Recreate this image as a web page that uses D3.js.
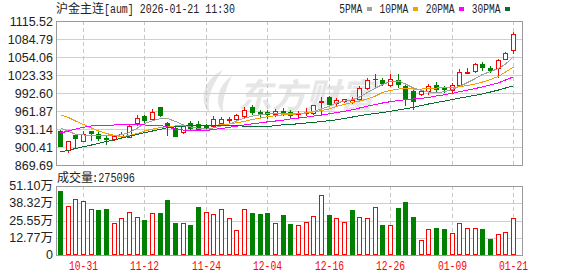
<!DOCTYPE html>
<html><head><meta charset="utf-8">
<script src="https://cdn.jsdelivr.net/npm/d3@7"></script>
<style>
html,body{margin:0;padding:0;background:#fff;}
svg{display:block;}
</style></head>
<body>
<svg id="chart" width="578" height="276"></svg>
<script>
// ---------------- data ----------------
const title = "沪金主连[aum] 2026-01-21 11:30";
const volumeTitle = "成交量:275096";
const watermark = "东方财富";
const dates = ["10-28","10-29","10-30","10-31","11-03","11-04","11-05","11-06","11-07","11-10",
  "11-11","11-12","11-13","11-14","11-17","11-18","11-19","11-20","11-21","11-24",
  "11-25","11-26","11-27","11-28","12-01","12-02","12-03","12-04","12-05","12-08",
  "12-09","12-10","12-11","12-12","12-15","12-16","12-17","12-18","12-19","12-22",
  "12-23","12-24","12-25","12-26","12-29","12-30","12-31","01-05","01-06","01-07",
  "01-08","01-09","01-12","01-13","01-14","01-15","01-16","01-19","01-20","01-21"];
const open = [928.1,895.6,920.6,911.0,926.9,922.3,915.4,914.4,920.0,918.3,
  941.0,952.5,948.5,967.9,941.0,933.7,925.7,941.0,939.5,936.6,
  937.1,941.0,946.8,948.5,952.5,968.4,959.8,959.8,957.6,962.2,
  959.8,956.4,958.8,958.8,977.5,985.4,974.7,979.8,978.0,982.7,
  1001.5,1016.6,1015.6,1007.1,1014.5,1005.4,995.7,991.7,995.7,1005.9,
  1001.5,997.4,1007.1,1027.1,1029.8,1042.5,1035.6,1035.6,1051.3,1065.2];
const high = [929.0,911.5,922.5,926.9,928.1,926.9,920.0,921.0,925.7,939.7,
  954.2,955.4,965.6,969.5,942.8,935.0,939.5,945.2,944.0,939.5,
  953.0,951.3,951.3,957.0,969.5,972.0,963.9,963.9,966.0,966.6,
  963.2,962.0,967.3,972.5,986.1,988.3,984.0,983.0,986.1,1004.0,
  1018.5,1024.2,1018.0,1024.2,1025.4,1010.0,998.6,997.0,1008.3,1011.1,
  1005.4,1010.0,1033.9,1035.6,1043.0,1045.2,1038.4,1051.5,1063.0,1097.1];
const low = [901.5,892.7,898.7,910.5,912.7,912.7,905.9,913.0,916.6,917.5,
  938.3,942.8,946.8,953.0,921.2,919.0,924.0,931.5,929.0,930.5,
  936.0,938.3,943.4,946.8,951.0,956.0,950.8,950.0,954.0,954.2,
  952.0,951.0,954.2,957.0,955.9,970.1,972.0,978.0,975.9,980.0,
  999.8,1004.2,1007.0,1005.4,1003.2,971.3,965.6,990.0,991.7,995.7,
  994.6,994.6,1005.4,1026.4,1028.5,1032.7,1028.1,1020.0,1051.0,1061.2];
const close = [902.5,911.0,916.3,922.3,924.0,916.6,913.7,919.5,922.3,936.6,
  949.6,946.8,961.0,954.2,938.3,920.0,938.3,933.7,930.0,932.5,
  947.4,948.0,948.6,954.2,963.9,959.8,957.1,956.4,962.2,958.8,
  955.9,958.3,961.0,971.8,979.0,973.0,981.5,982.0,980.2,1001.5,
  1015.6,1015.8,1010.0,1016.9,1008.8,984.4,979.8,995.7,1004.2,999.8,
  998.6,1007.1,1028.1,1028.8,1041.3,1036.6,1031.5,1048.6,1061.2,1092.5];
const volume = [476000,362000,414000,399000,340000,335000,342000,236000,273000,317000,
  280000,260000,310000,312000,409000,238000,236000,223000,357000,317000,
  303000,340000,273000,184000,340000,312000,305000,312000,236000,298000,
  231000,221000,243000,288000,444000,298000,273000,243000,335000,283000,
  273000,355000,223000,221000,350000,394000,283000,109000,191000,201000,
  193000,161000,236000,198000,198000,193000,119000,154000,169000,275096];
const ma5 = [933.2,927.2,922.1,920.9,919.2,919.5,920.0,920.0,921.2,925.2,
  932.9,940.5,945.1,949.1,949.1,944.0,938.0,934.6,932.5,931.1,
  932.9,936.3,939.7,944.8,949.6,953.3,955.6,957.1,957.6,958.1,
  957.1,957.6,958.8,961.0,965.3,970.4,975.5,978.9,981.0,985.8,
  993.5,1001.1,1007.1,1012.2,1013.1,1008.0,1001.1,996.9,994.3,993.5,
  994.7,998.6,1003.7,1010.5,1017.4,1024.2,1029.3,1034.4,1042.1,1054.4];
const ma10 = [955.4,950.8,944.8,938.8,932.9,927.7,923.5,920.0,918.3,920.0,
  923.5,927.7,931.1,933.7,935.4,936.3,937.1,937.5,937.5,937.1,
  937.5,938.3,939.7,941.7,944.3,947.4,949.9,952.0,953.9,955.4,
  955.9,957.1,958.5,960.2,962.7,965.3,969.6,973.0,976.4,978.9,
  982.4,987.5,993.5,996.9,999.4,1000.3,999.4,999.4,1000.3,1001.1,
  1001.5,1002.0,1003.2,1005.4,1008.0,1011.4,1015.7,1020.8,1028.5,1037.0];
const ma20 = [924.3,927.7,931.1,934.2,936.3,937.1,937.6,938.0,938.0,938.0,
  938.0,938.0,937.6,937.1,934.6,931.1,929.4,928.6,928.6,928.6,
  930.5,932.0,934.0,936.0,938.0,940.0,941.8,943.3,944.8,946.3,
  948.3,949.7,951.6,953.3,955.0,957.1,959.3,961.5,963.9,967.0,
  970.1,973.0,975.5,977.8,979.8,981.2,982.4,983.6,984.9,987.5,
  989.7,992.1,994.7,997.4,1000.3,1003.2,1006.3,1010.0,1014.8,1020.3];
const ma30 = [892.2,894.8,897.9,900.8,903.8,906.7,909.8,912.7,915.8,918.9,
  921.8,924.8,927.7,930.6,933.4,934.9,935.9,936.8,937.1,937.1,
  937.1,937.1,937.1,937.1,935.8,935.1,934.9,935.4,937.1,938.3,
  938.8,940.2,941.4,942.2,944.0,945.3,946.9,949.1,951.6,953.9,
  955.9,957.6,959.3,961.4,963.6,965.6,968.2,971.3,973.8,976.4,
  978.9,981.5,983.9,986.3,988.7,991.2,994.3,997.7,1001.1,1004.9];
const maNames = ["5PMA","10PMA","20PMA","30PMA"];
const priceTicks = [869.69,900.41,931.14,961.87,992.60,1023.33,1054.06,1084.79,1115.52];
const priceTickLabels = ["869.69","900.41","931.14","961.87","992.60","1023.33","1054.06","1084.79","1115.52"];
const volTicks = [0,127750,255500,383250,511000];
const volTickLabels = ["0","12.77万","25.55万","38.32万","51.10万"];
const dateTicks = ["10-31","11-12","11-24","12-04","12-16","12-26","01-09","01-21"];

// ---------------- styles / layout ----------------
const RED = "#ff0000", GREEN = "#008000";
const maColors = ["#a0a0a0","#f0a000","#ff00ff","#0b6b34"];
const PL = 56, PR = 522, MT = 21, MB = 165, VT = 186, VB = 255;
const LABEL_FONT = "'Liberation Sans', Arial, sans-serif";
const MONO = "'Liberation Mono', 'DejaVu Sans Mono', monospace";
const CJK = "'Noto Sans CJK SC', sans-serif";

const svg = d3.select("#chart");

const x = d3.scaleBand().domain(dates).range([56.5, 517.3]).paddingInner(0).paddingOuter(0);
const cx = d => Math.floor(x(d) + x.bandwidth() / 2);
const yP = d3.scaleLinear().domain([priceTicks[0], priceTicks[priceTicks.length - 1]]).range([MB, MT]);
const yV = d3.scaleLinear().domain([volTicks[0], volTicks[volTicks.length - 1]]).range([VB, VT]);

// ---------------- watermark ----------------
const wm = svg.append("g").attr("fill", "#e6e6e6");
wm.append("path").attr("d", "M223 70 C205 78 197 99 210 114 C206 100 211 86 223 70 Z");
wm.append("path").attr("d", "M232 76 C217 86 214 103 223 113 C222 100 226 88 232 76 Z");
wm.append("text").attr("x", 238).attr("y", 108)
  .attr("font-family", CJK).attr("font-size", 34).attr("font-weight", "bold")
  .attr("font-style", "italic").text(watermark);

// ---------------- grid ----------------
const grid = svg.append("g").attr("shape-rendering", "crispEdges");
grid.selectAll("line.hp").data(priceTicks).join("line")
  .attr("x1", PL).attr("x2", PR)
  .attr("y1", d => Math.round(yP(d)) + 0.5).attr("y2", d => Math.round(yP(d)) + 0.5)
  .attr("stroke", "#cfcfcf");
grid.selectAll("line.hv").data(volTicks).join("line")
  .attr("x1", PL).attr("x2", PR)
  .attr("y1", d => Math.round(yV(d)) + 0.5).attr("y2", d => Math.round(yV(d)) + 0.5)
  .attr("stroke", "#cfcfcf");
[[MT, MB], [VT, VB]].forEach(([t, b]) => {
  grid.append("g").selectAll("line").data(dateTicks).join("line")
    .attr("x1", d => cx(d) + 0.5).attr("x2", d => cx(d) + 0.5)
    .attr("y1", t).attr("y2", b)
    .attr("stroke", "#c8c8c8").attr("stroke-dasharray", "4,3");
});

// ---------------- candles ----------------
const cg = svg.append("g").attr("shape-rendering", "crispEdges");
dates.forEach((d, i) => {
  const px = cx(d);
  const up = close[i] >= open[i];
  const col = up ? RED : GREEN;
  const top = Math.round(yP(Math.max(open[i], close[i])));
  const bot = Math.round(yP(Math.min(open[i], close[i])));
  const hy = Math.round(yP(high[i])), ly = Math.round(yP(low[i]));
  if (hy < top) cg.append("line").attr("x1", px + 0.5).attr("x2", px + 0.5).attr("y1", hy).attr("y2", top).attr("stroke", col);
  if (ly > bot) cg.append("line").attr("x1", px + 0.5).attr("x2", px + 0.5).attr("y1", bot + 1).attr("y2", ly + 1).attr("stroke", col);
  if (up) {
    cg.append("rect").attr("x", px - 1.5).attr("y", top + 0.5).attr("width", 4).attr("height", Math.max(bot - top, 0))
      .attr("fill", "#fff").attr("stroke", col);
  } else {
    cg.append("rect").attr("x", px - 2).attr("y", top).attr("width", 5).attr("height", Math.max(bot - top + 1, 1))
      .attr("fill", col);
  }
});

// ---------------- MA lines ----------------
const maSeries = [ma5, ma10, ma20, ma30];
const line = d3.line().x((v, i) => cx(dates[i]) + 0.5).y(v => yP(v));
svg.append("g").selectAll("path").data(maSeries).join("path")
  .attr("d", d => line(d)).attr("fill", "none")
  .attr("stroke", (d, k) => maColors[k]).attr("stroke-width", 1)
  .attr("shape-rendering", "crispEdges");

// ---------------- volume ----------------
const vg = svg.append("g").attr("shape-rendering", "crispEdges");
dates.forEach((d, i) => {
  const px = cx(d);
  const up = i === 0 ? close[i] >= open[i] : close[i] >= close[i - 1];
  const top = Math.round(yV(volume[i]));
  if (up) {
    vg.append("rect").attr("x", px - 1.5).attr("y", top + 0.5).attr("width", 4).attr("height", VB - top - 1)
      .attr("fill", "#fff").attr("stroke", RED);
  } else {
    vg.append("rect").attr("x", px - 2).attr("y", top).attr("width", 5).attr("height", VB - top)
      .attr("fill", GREEN);
  }
});

// ---------------- frames ----------------
const fr = svg.append("g").attr("shape-rendering", "crispEdges").attr("fill", "none").attr("stroke", "#9a9a9a");
fr.append("rect").attr("x", PL + 0.5).attr("y", MT + 0.5).attr("width", PR - PL).attr("height", MB - MT);
fr.append("rect").attr("x", PL + 0.5).attr("y", VT + 0.5).attr("width", PR - PL).attr("height", VB - VT);

// ---------------- axis labels ----------------
svg.append("g").selectAll("text").data(priceTicks).join("text")
  .attr("x", 53).attr("y", d => Math.round(yP(d)) + 5)
  .attr("text-anchor", "end").attr("font-family", LABEL_FONT).attr("font-size", 12.5).attr("fill", "#222")
  .text((d, k) => priceTickLabels[k]);
svg.append("g").selectAll("text").data(volTicks).join("text")
  .attr("x", 53).attr("y", d => Math.round(yV(d)) + 4)
  .attr("text-anchor", "end").attr("font-family", LABEL_FONT + "," + CJK).attr("font-size", 12.5).attr("fill", "#222")
  .text((d, k) => volTickLabels[k]);
svg.append("g").selectAll("text").data(dateTicks).join("text")
  .attr("x", d => cx(d) + 0.5).attr("y", 270)
  .attr("text-anchor", "middle").attr("font-family", MONO).attr("font-size", 12).attr("fill", RED)
  .attr("textLength", 29).attr("lengthAdjust", "spacingAndGlyphs")
  .text(d => d);

// ---------------- title & legend ----------------
svg.append("text").attr("x", 56).attr("y", 13).attr("font-family", CJK).attr("font-size", 12).attr("fill", "#222")
  .text(title.slice(0, 4));
svg.append("text").attr("x", 104).attr("y", 13).attr("font-family", MONO).attr("font-size", 12).attr("fill", "#222")
  .attr("textLength", 131).attr("lengthAdjust", "spacingAndGlyphs").text(title.slice(4));

svg.append("text").attr("x", 57).attr("y", 182).attr("font-family", CJK).attr("font-size", 12).attr("fill", "#222")
  .text(volumeTitle.slice(0, 3));
svg.append("text").attr("x", 92).attr("y", 182).attr("font-family", MONO).attr("font-size", 12).attr("fill", "#222")
  .attr("textLength", 43).attr("lengthAdjust", "spacingAndGlyphs").text(volumeTitle.slice(3));

let lx = 339.3;
const lg = svg.append("g");
maNames.forEach((n, k) => {
  const w = n.length * 5.75;
  lg.append("text").attr("x", lx).attr("y", 12.5).attr("font-family", MONO).attr("font-size", 12).attr("fill", "#222")
    .attr("textLength", w).attr("lengthAdjust", "spacingAndGlyphs").text(n);
  lg.append("rect").attr("x", Math.round(lx + w + 4.3)).attr("y", 7).attr("width", 5).attr("height", 4)
    .attr("fill", maColors[k]).attr("shape-rendering", "crispEdges");
  lx += w + 4.3 + 5 + 8;
});
</script>
</body></html>
